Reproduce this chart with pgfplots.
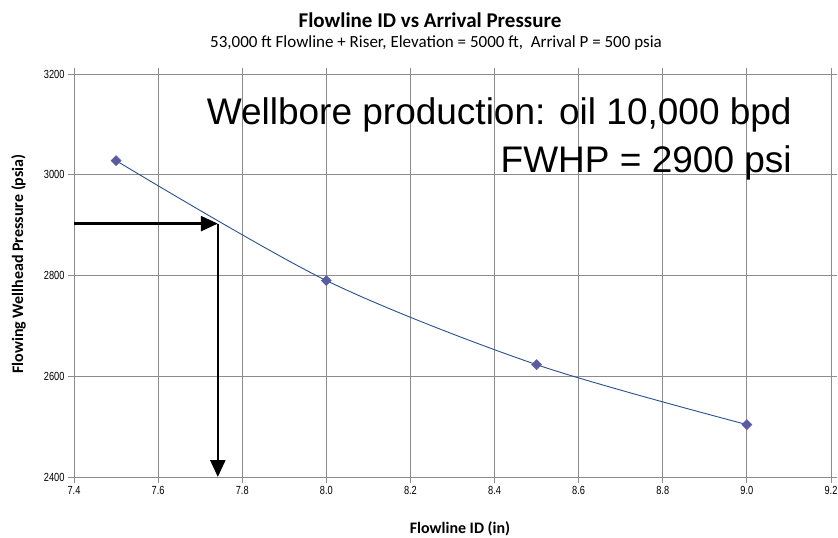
\documentclass[border=0pt]{standalone}
\usepackage{graphicx}
\usepackage{pgfplots}
\pgfplotsset{compat=1.18}
\usepackage{fontspec}
\setmainfont{Carlito}
\newfontfamily\arial{Liberation Sans}
\usetikzlibrary{arrows.meta}
\definecolor{gridgray}{RGB}{140,140,140}
\definecolor{linecol}{RGB}{40,80,140}
\definecolor{markcol}{RGB}{90,92,160}
\begin{document}
\begin{tikzpicture}[x=1pt,y=1pt]
\begin{axis}[
  at={(0pt,0pt)}, anchor=south west,
  scale only axis, width=757pt, height=403pt,
  xmin=7.4, xmax=9.2, ymin=2400, ymax=3200,
  xtick={7.4,7.6,7.8,8.0,8.2,8.4,8.6,8.8,9.0,9.2},
  ytick={2400,2600,2800,3000,3200},
  grid=major, grid style={gridgray, line width=0.9pt},
  axis line style={gridgray, line width=0.9pt},
  tick style={gridgray, line width=0.9pt}, tick align=outside, major tick length=6pt,
  xticklabel style={font=\arial\fontsize{10.5}{12}\selectfont},
  yticklabel style={font=\arial\fontsize{10.5}{12}\selectfont},
  xticklabel={\scalebox{0.88}[1.12]{\pgfmathprintnumber[fixed,fixed zerofill,precision=1,assume math mode=true]{\tick}}},
  yticklabel={\scalebox{0.88}[1.12]{\pgfmathprintnumber[fixed,set thousands separator={},assume math mode=true]{\tick}}},
  clip=false,
]
\addplot[linecol, line width=0.9pt, smooth, tension=0.5, no marks] coordinates {
  (7.5,3028) (8.0,2790) (8.5,2623) (9.0,2504)
};
\addplot[only marks, mark=square*, mark size=3.6pt, mark options={rotate=45, fill=markcol, draw=markcol}] coordinates {
  (7.5,3028) (8.0,2790) (8.5,2623) (9.0,2504)
};
\draw[line width=2.5pt, -{Triangle[length=17pt,width=15pt]}] (axis cs:7.4,2903) -- (axis cs:7.742,2903);
\draw[line width=2.5pt, -{Triangle[length=17pt,width=15pt]}] (axis cs:7.742,2903) -- (axis cs:7.742,2400);
\node[anchor=base east, font=\arial\fontsize{37}{44}\selectfont, inner sep=0pt] at (axis cs:9.107,3099) {Wellbore production: oil 10,000 bpd};
\node[anchor=base east, font=\arial\fontsize{37}{44}\selectfont, inner sep=0pt] at (axis cs:9.107,3004) {FWHP = 2900 psi};
\end{axis}
\node[font=\bfseries\fontsize{21}{25}\selectfont] at (356,457) {Flowline ID vs Arrival Pressure};
\node[font=\fontsize{17}{20}\selectfont] at (362,434) {53,000 ft Flowline + Riser, Elevation = 5000 ft,\ \ Arrival P = 500 psia};
\node[font=\bfseries\fontsize{16}{19}\selectfont] at (386,-52) {Flowline ID (in)};
\node[font=\bfseries\fontsize{16}{19}\selectfont, rotate=90] at (-55.5,213) {Flowing Wellhead Pressure (psia)};
\pgfresetboundingbox
\path[use as bounding box] (-74,-61) rectangle (764,477);
\end{tikzpicture}
\end{document}
